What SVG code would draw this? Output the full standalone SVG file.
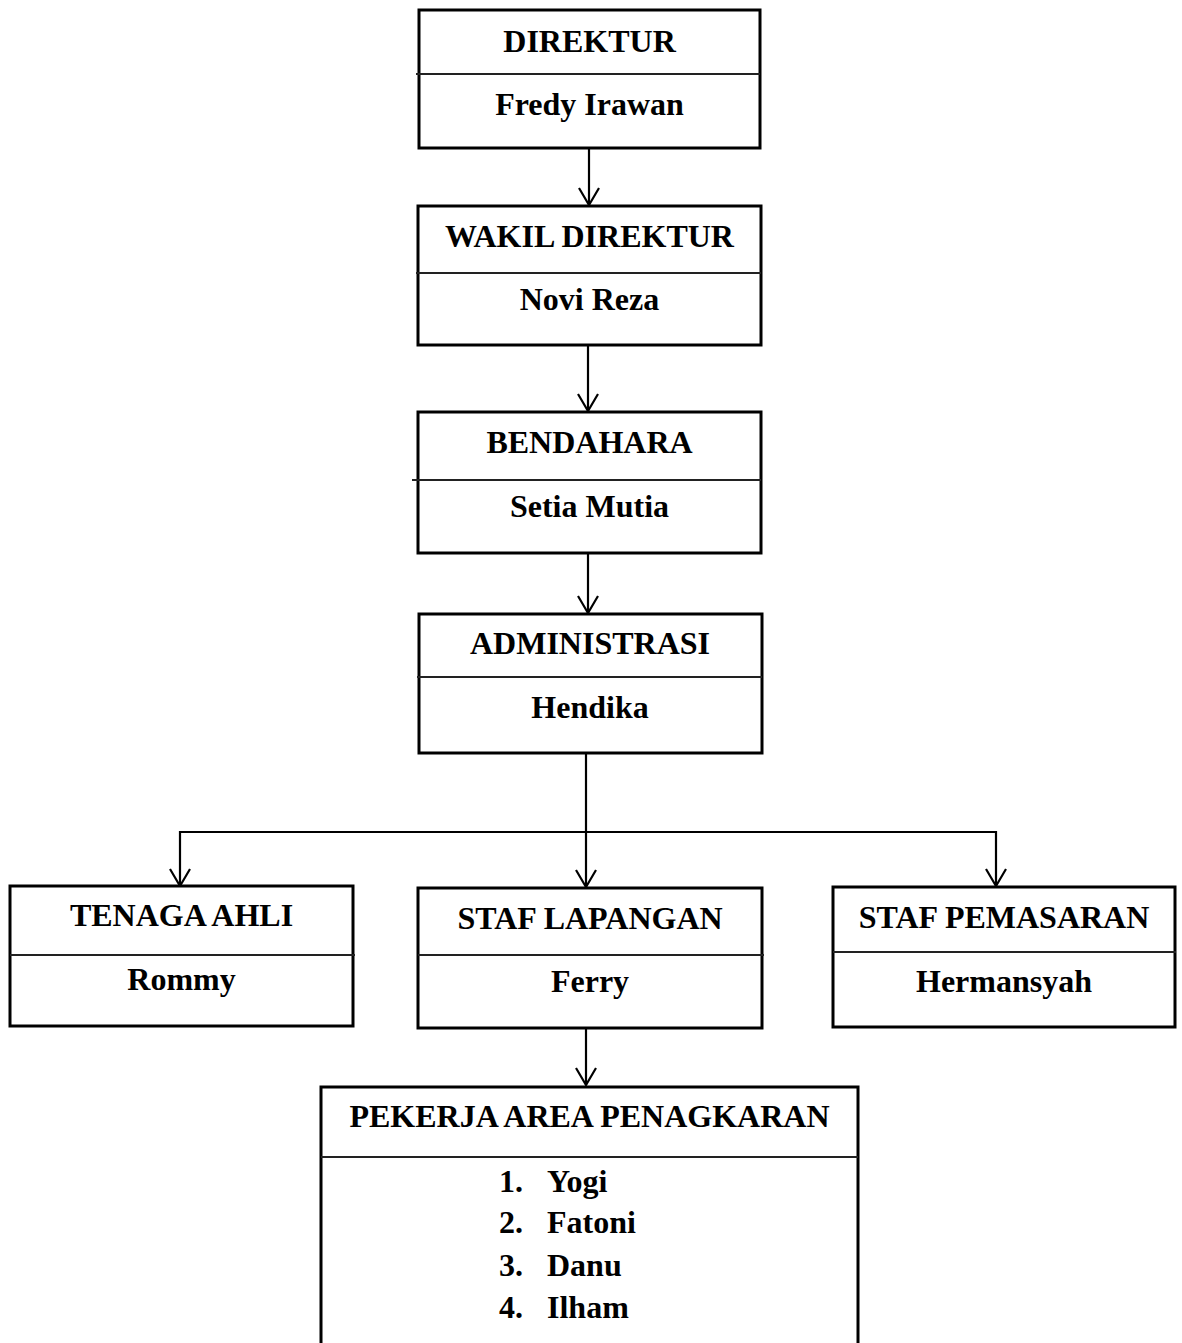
<svg xmlns="http://www.w3.org/2000/svg" width="1182" height="1343" viewBox="0 0 1182 1343">
<style>
.box{fill:#fff;stroke:#000;stroke-width:3}
.div{stroke:#222;stroke-width:1.8;fill:none}
.t{font-family:"Liberation Serif","Times New Roman",serif;font-weight:bold;font-size:32px;fill:#000;text-anchor:middle}
.l{font-family:"Liberation Serif","Times New Roman",serif;font-weight:bold;font-size:32px;fill:#000}
.c{stroke:#000;stroke-width:2.2;fill:none;marker-end:url(#ah)}
</style>
<defs>
<marker id="ah" viewBox="-19 -12 21 24" refX="0" refY="0" markerUnits="userSpaceOnUse" markerWidth="21" markerHeight="24" orient="auto">
<path d="M-17,-10 L0,0 L-17,10" fill="none" stroke="#000" stroke-width="2.2"/>
</marker>
</defs>
<rect width="1182" height="1343" fill="#fff"/>
<g id="connectors">
<path class="c" d="M589,148 V205"/>
<path class="c" d="M588,345 V411"/>
<path class="c" d="M588,553 V613"/>
<path class="c" d="M586,753 V887"/>
<path class="c" d="M586,832 H180 V886"/>
<path class="c" d="M586,832 H996 V886"/>
<path class="c" d="M586,1028 V1085"/>
</g>
<g id="direktur">
<rect class="box" x="419" y="10" width="341" height="138"/>
<line class="div" x1="416" y1="74" x2="760" y2="74"/>
<text class="t" x="589.5" y="52">DIREKTUR</text>
<text class="t" x="589.5" y="115">Fredy Irawan</text>
</g>
<g id="wakil">
<rect class="box" x="418" y="206" width="343" height="139"/>
<line class="div" x1="416" y1="273" x2="761" y2="273"/>
<text class="t" x="589.5" y="247">WAKIL DIREKTUR</text>
<text class="t" x="589.5" y="310">Novi Reza</text>
</g>
<g id="bendahara">
<rect class="box" x="418" y="412" width="343" height="141"/>
<line class="div" x1="412" y1="480" x2="761" y2="480"/>
<text class="t" x="589.5" y="453">BENDAHARA</text>
<text class="t" x="589.5" y="517">Setia Mutia</text>
</g>
<g id="administrasi">
<rect class="box" x="419" y="614" width="343" height="139"/>
<line class="div" x1="417" y1="677" x2="762" y2="677"/>
<text class="t" x="590" y="654">ADMINISTRASI</text>
<text class="t" x="590" y="718">Hendika</text>
</g>
<g id="tenaga-ahli">
<rect class="box" x="10" y="886" width="343" height="140"/>
<line class="div" x1="10" y1="955" x2="355" y2="955"/>
<text class="t" x="181.5" y="926">TENAGA AHLI</text>
<text class="t" x="181.5" y="990">Rommy</text>
</g>
<g id="staf-lapangan">
<rect class="box" x="418" y="888" width="344" height="140"/>
<line class="div" x1="418" y1="955" x2="764" y2="955"/>
<text class="t" x="590" y="929">STAF LAPANGAN</text>
<text class="t" x="590" y="992">Ferry</text>
</g>
<g id="staf-pemasaran">
<rect class="box" x="833" y="887" width="342" height="140"/>
<line class="div" x1="833" y1="952" x2="1176" y2="952"/>
<text class="t" x="1004" y="928">STAF PEMASARAN</text>
<text class="t" x="1004" y="992">Hermansyah</text>
</g>
<g id="pekerja">
<rect class="box" x="321" y="1087" width="537" height="270"/>
<line class="div" x1="321" y1="1157" x2="858" y2="1157"/>
<text class="t" x="589.5" y="1127">PEKERJA AREA PENAGKARAN</text>
<text class="l" x="499" y="1192">1.</text><text class="l" x="547" y="1192">Yogi</text>
<text class="l" x="499" y="1233">2.</text><text class="l" x="547" y="1233">Fatoni</text>
<text class="l" x="499" y="1276">3.</text><text class="l" x="547" y="1276">Danu</text>
<text class="l" x="499" y="1318">4.</text><text class="l" x="547" y="1318">Ilham</text>
</g>
</svg>
